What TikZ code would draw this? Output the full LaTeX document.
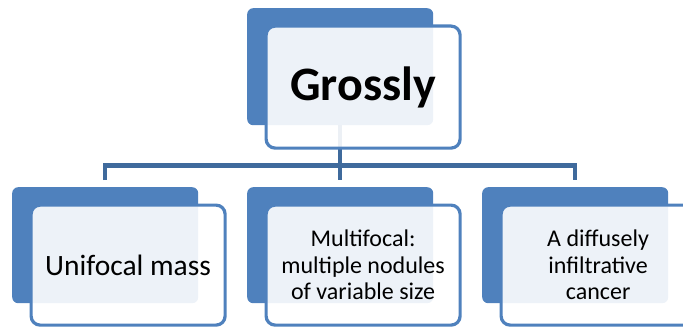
\documentclass[tikz,border=0pt]{standalone}
\usepackage{fontspec}
\setmainfont{Carlito}
\definecolor{boxblue}{HTML}{4F81BD}
\definecolor{connblue}{HTML}{3F6A9C}
\begin{document}
\begin{tikzpicture}[x=1pt,y=-1pt,
  back/.style={fill=boxblue, rounded corners=6pt, draw=none, anchor=north west, inner sep=0pt},
  front/.style={fill=white, fill opacity=0.9, text opacity=1, draw=boxblue, draw opacity=1, line width=3.2pt,
    rounded corners=9pt, anchor=north west, inner sep=0pt, align=center, text=black},
  conn/.style={draw=connblue, line width=4.5pt, line join=miter}]
\useasboundingbox (0,0) rectangle (683,329);
\clip (0,0) rectangle (683,329);
% back boxes
\node[back, minimum width=186pt, minimum height=117pt] (tb) at (247,8) {};
\node[back, minimum width=186pt, minimum height=116pt] (lb) at (12,187) {};
\node[back, minimum width=186pt, minimum height=116pt] (mb) at (247,187) {};
\node[back, minimum width=186pt, minimum height=116pt] (rb) at (482,187) {};
% connectors
\draw[conn] (tb.south) -- ++(0,40) coordinate (hub);
\draw[conn] ([yshift=7pt]lb.north) |- (hub) -| ([yshift=7pt]rb.north);
\draw[conn] (hub) -- ([yshift=7pt]mb.north);
% front boxes
\node[front, minimum width=194pt, minimum height=122pt, font=\fontsize{48}{56}\selectfont\bfseries] (tf) at (264.5,24.5)
  {Grossly};
\node[front, minimum width=194pt, minimum height=120pt, font=\fontsize{29.5}{35}\selectfont] (lf) at (29.5,203.5)
  {Unifocal mass};
\node[front, minimum width=194pt, minimum height=120pt, font=\fontsize{24}{26.5}\selectfont] (mf) at (264.5,203.5)
  {Multifocal:\\ multiple nodules\\ of variable size};
\node[front, minimum width=194pt, minimum height=120pt, font=\fontsize{24}{26.5}\selectfont] (rf) at (499.5,203.5)
  {A diffusely\\ infiltrative\\ cancer};
\end{tikzpicture}
\end{document}
